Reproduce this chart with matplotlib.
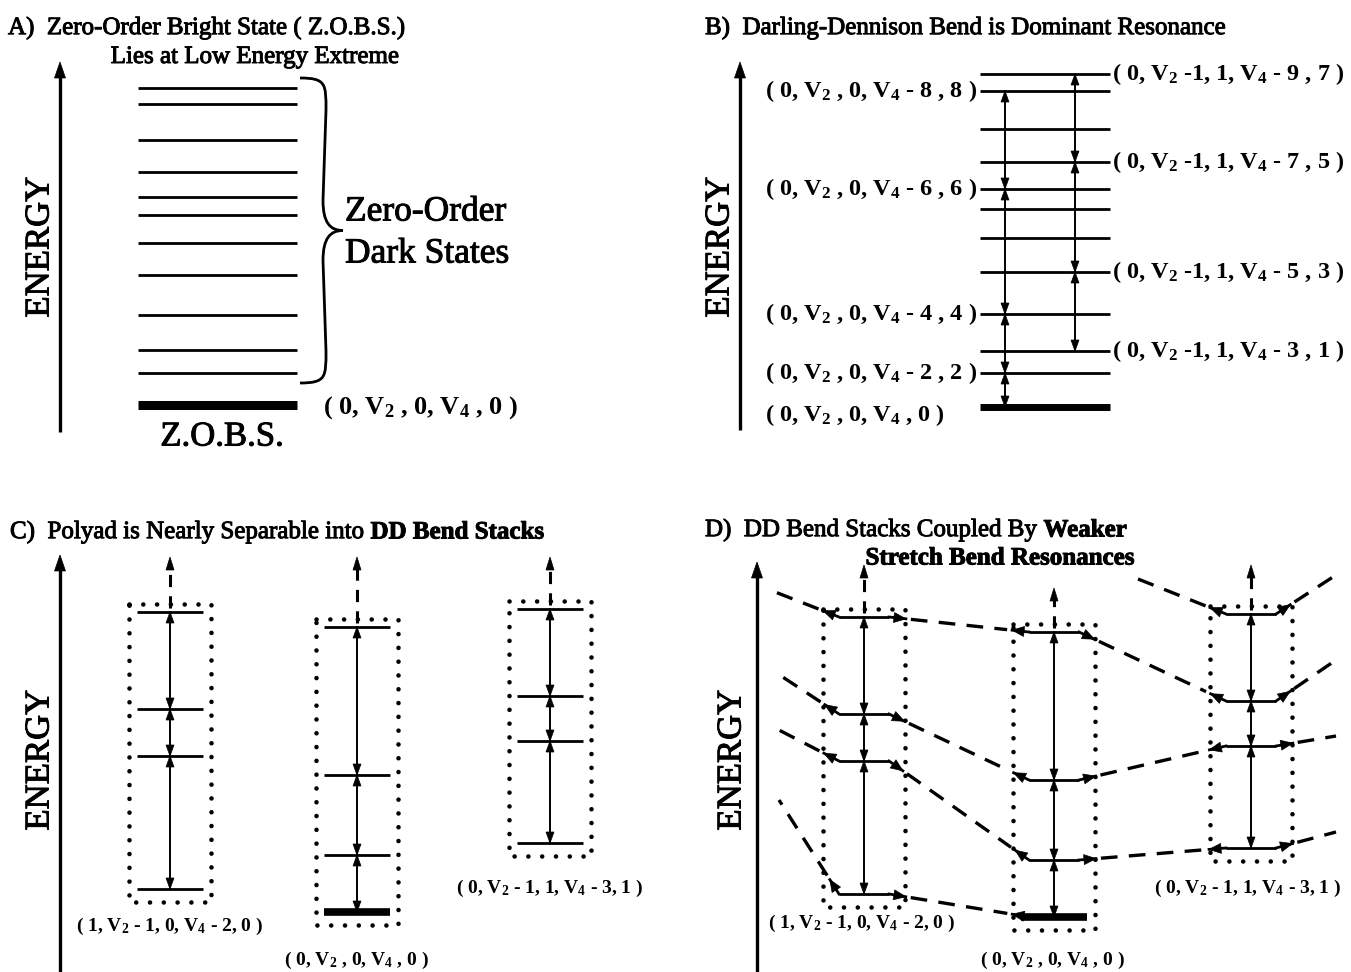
import numpy as np
import matplotlib
matplotlib.use("Agg")
import matplotlib.pyplot as plt
import matplotlib.patheffects as pe
from matplotlib.path import Path
from matplotlib.patches import PathPatch, Polygon

plt.rcParams['font.family'] = ['Liberation Serif', 'DejaVu Serif']
plt.rcParams['mathtext.fontset'] = 'custom'
plt.rcParams['mathtext.rm'] = 'Liberation Serif:bold'
plt.rcParams['mathtext.bf'] = 'Liberation Serif:bold'
plt.rcParams['mathtext.default'] = 'rm'

# ---------------- data (energies in arbitrary units above the bright state) -------------
# A) zero-order dark states and the bright state
dark_E_A = [317, 301, 265, 233, 208, 190, 162, 130, 90, 55, 32]
bright_E_A = 0

# B) Darling-Dennison bend stacks inside the polyad
dd_bright_E = [0, 34, 93, 218, 316]
dd_bright_labels = ["( 0, V$_2$ , 0, V$_4$ , 0 )",
                    "( 0, V$_2$ , 0, V$_4$ - 2 , 2 )",
                    "( 0, V$_2$ , 0, V$_4$ - 4 , 4 )",
                    "( 0, V$_2$ , 0, V$_4$ - 6 , 6 )",
                    "( 0, V$_2$ , 0, V$_4$ - 8 , 8 )"]
dd_other_E = [56, 135, 245, 333]
dd_other_labels = ["( 0, V$_2$ -1, 1, V$_4$ - 3 , 1 )",
                   "( 0, V$_2$ -1, 1, V$_4$ - 5 , 3 )",
                   "( 0, V$_2$ -1, 1, V$_4$ - 7 , 5 )",
                   "( 0, V$_2$ -1, 1, V$_4$ - 9 , 7 )"]
remaining_E_B = [169, 198, 278]

# C/D) three bend stacks (lowest level first)
stack_E = [[23, 156, 203, 300],
           [0, 57, 137, 285],
           [69, 171, 216, 303]]
stack_labels = ["( 1, V$_2$ - 1, 0, V$_4$ - 2, 0 )",
                "( 0, V$_2$ , 0, V$_4$ , 0 )",
                "( 0, V$_2$ - 1, 1, V$_4$ - 3, 1 )"]
bright_stack = 1
# stretch-bend couplings between stacks: (stack, level) <-> (stack, level)
couplings = [((0, 3), (1, 3)), ((1, 3), (2, 2)),
             ((0, 2), (1, 2)), ((0, 1), (1, 1)), ((0, 0), (1, 0)),
             ((1, 2), (2, 1)), ((1, 1), (2, 0))]

# ---------------- figure in pixel coordinates ----------------
W, H = 1351, 972
fig = plt.figure(figsize=(W / 100, H / 100), dpi=100)
ax = fig.add_axes([0, 0, 1, 1])
ax.set_xlim(0, W)
ax.set_ylim(H, 0)
ax.axis('off')
renderer = fig.canvas.get_renderer()

K = 'black'
HEAVY = [pe.withStroke(linewidth=0.7, foreground=K)]
LVL = 2.0


def txt(x, y, s, heavy=True, **kw):
    t = ax.text(x, y, s, **kw)
    if heavy:
        t.set_path_effects(HEAVY)
    return t


def hline(x0, x1, y, lw=LVL):
    ax.plot([x0, x1], [y, y], color=K, lw=lw, solid_capstyle='butt')


def head(tip, d, L=11, wd=8):
    d = np.asarray(d, float)
    d = d / np.hypot(*d)
    n = np.array([-d[1], d[0]])
    tip = np.asarray(tip, float)
    base = tip - L * d
    ax.add_patch(Polygon([tip, base + n * wd / 2, base - n * wd / 2],
                         closed=True, facecolor=K, edgecolor=K, lw=0.5))


def double_arrow(x, ya, yb, lw=1.4, L=11, wd=8):
    ax.plot([x, x], [ya, yb], color=K, lw=lw)
    head((x, ya), (0, ya - yb), L, wd)
    head((x, yb), (0, yb - ya), L, wd)


def stack_arrows(x, ys, **kw):
    ys = sorted(ys)
    for a, b in zip(ys[:-1], ys[1:]):
        double_arrow(x, a, b, **kw)


def energy_axis(x, y_bottom, y_tip, tx, ty):
    ax.plot([x, x], [y_bottom, y_tip + 12], color=K, lw=2.4, solid_capstyle='butt')
    head((x, y_tip), (0, -1), L=16, wd=11)
    txt(tx, ty, "ENERGY", rotation=90, ha='center', va='center', fontsize=25)


def dotted(xs, ys):
    ax.plot(xs, ys, color=K, lw=3.3, linestyle=(0, (0.01, 3.0)),
            dash_capstyle='round')


def dotted_box(x0, x1, y0, y1):
    dotted([x0, x1, x1, x0, x0], [y0, y0, y1, y1, y0])


def dashed(p, q, lw=2.4, pattern=(5, 3.4)):
    ax.plot([p[0], q[0]], [p[1], q[1]], color=K, lw=lw,
            linestyle=(0, pattern), dash_capstyle='butt')


def rich_text(x, y, parts, fontsize=18):
    """Draw consecutive text pieces with differing weights on one line."""
    for s, weight in parts:
        t = txt(x, y, s, fontsize=fontsize, fontweight=weight,
                ha='left', va='center')
        bb = t.get_window_extent(renderer=renderer)
        x += bb.width


# ---------------- A) Zero-order bright state ----------------
txt(8, 28, "A)  Zero-Order Bright State ( Z.O.B.S.)", fontsize=18, va='center')
txt(255, 57, "Lies at Low Energy Extreme", fontsize=18, ha='center', va='center')
energy_axis(60, 432, 62, 40, 247)
baseA = 405
for e in dark_E_A:
    hline(138, 297, baseA - e)
hline(138, 297, baseA - bright_E_A, lw=6.5)
# curly brace spanning the dark states
yt, yb = 78, 383
ym = (yt + yb) / 2
xe, xm, xt = 300, 326, 343
verts = [(xe, yt), (xm, yt), (xm, yt + 6), (xm, yt + 32),
         (xm - 3, ym - 30),
         (xm - 3, ym - 8), (xm + 4, ym), (xt, ym),
         (xm + 4, ym), (xm - 3, ym + 8), (xm - 3, ym + 30),
         (xm, yb - 32),
         (xm, yb - 6), (xm, yb), (xe, yb)]
codes = [Path.MOVETO, Path.CURVE4, Path.CURVE4, Path.CURVE4,
         Path.LINETO,
         Path.CURVE4, Path.CURVE4, Path.CURVE4,
         Path.CURVE4, Path.CURVE4, Path.CURVE4,
         Path.LINETO,
         Path.CURVE4, Path.CURVE4, Path.CURVE4]
ax.add_patch(PathPatch(Path(verts, codes), facecolor='none', edgecolor=K, lw=2.0))
txt(345, 212, "Zero-Order", fontsize=25.5, va='center')
txt(345, 254, "Dark States", fontsize=25.5, va='center')
txt(323, 408, "( 0, V$_2$ , 0, V$_4$ , 0 )", heavy=False, fontsize=19,
    fontweight='bold', va='center')
txt(222, 437, "Z.O.B.S.", fontsize=25, ha='center', va='center')

# ---------------- B) Darling-Dennison resonance ----------------
txt(705, 28, "B)  Darling-Dennison Bend is Dominant Resonance", fontsize=18, va='center')
energy_axis(740, 430, 62, 720, 247)
baseB = 407
bx0, bx1 = 980, 1110
for e in remaining_E_B + dd_other_E + dd_bright_E[1:]:
    hline(bx0, bx1, baseB - e)
hline(bx0, bx1, baseB - dd_bright_E[0], lw=5)
stack_arrows(1005, [baseB - e for e in dd_bright_E])
stack_arrows(1075, [baseB - e for e in dd_other_E])
for e, lab in zip(dd_bright_E[1:], dd_bright_labels[1:]):
    txt(977, baseB - e + 6, lab, heavy=False, fontsize=17.5, fontweight='bold',
        ha='right', va='baseline')
txt(765, baseB + 8, dd_bright_labels[0], heavy=False, fontsize=17.5,
    fontweight='bold', ha='left', va='center')
for e, lab in zip(dd_other_E, dd_other_labels):
    txt(1112, baseB - e + 6, lab, heavy=False, fontsize=17.5, fontweight='bold',
        ha='left', va='baseline')


# ---------------- C) and D) bend stacks ----------------
def draw_stacks(cx_list, base, tips, label_pos, hw):
    ends = {}
    for i, (cx, Es) in enumerate(zip(cx_list, stack_E)):
        ys = [base - e for e in Es]
        top, bot = min(ys), max(ys)
        dotted_box(cx - 41, cx + 41, top - 8, bot + 13)
        for j, y in enumerate(ys):
            if i == bright_stack and j == 0:
                hline(cx - 33, cx + 33, y, lw=5.5)
            else:
                hline(cx - hw, cx + hw, y)
            ends[(i, j)] = ((cx - hw, y), (cx + hw, y))
        stack_arrows(cx, ys)
        # continuation of the stack above the box
        dashed((cx, top - 4), (cx, tips[i] + 10), lw=2.2, pattern=(4, 3))
        head((cx, tips[i]), (0, -1), L=13, wd=8)
        txt(label_pos[i][0], label_pos[i][1], stack_labels[i], heavy=False,
            fontsize=14, fontweight='bold', ha='center', va='center')
    return ends


def port(p, u, dist=17):
    """Short kink leaving a level end, tipped by an arrowhead pointing along u."""
    pa = p + dist * u
    ax.plot([p[0], pa[0]], [p[1], pa[1]], color=K, lw=LVL)
    head(pa, u, L=12, wd=10)
    return pa


def link(p, q):
    p, q = np.asarray(p, float), np.asarray(q, float)
    u = (q - p) / np.hypot(*(q - p))
    pa = port(p, u)
    pb = port(q, -u)
    dashed(pa + 5 * u, pb - 5 * u)


def stub(level_end, outer):
    p, o = np.asarray(level_end, float), np.asarray(outer, float)
    u = (o - p) / np.hypot(*(o - p))
    pa = port(p, u)
    dashed(pa + 5 * u, o)


# C)
rich_text(10, 532, [("C)  Polyad is Nearly Separable into ", 'normal'),
                    ("DD Bend Stacks", 'bold')])
energy_axis(60, 972, 555, 40, 760)
draw_stacks([170, 357, 550], 912, [557, 557, 557],
            [(170, 926), (357, 960), (550, 888)], hw=33)

# D)
rich_text(705, 530, [("D)  DD Bend Stacks Coupled By ", 'normal'),
                     ("Weaker", 'bold')])
txt(1000, 558, "Stretch Bend Resonances", fontsize=18, fontweight='bold',
    ha='center', va='center')
energy_axis(757, 972, 562, 732, 760)
endsD = draw_stacks([864, 1054, 1251], 917, [565, 588, 565],
                    [(862, 923), (1053, 960), (1248, 888)], hw=25)
for a, b in couplings:
    link(endsD[a][1], endsD[b][0])
# couplings to states outside the drawn stacks
for outer, lvl in [((770, 590), 3), ((775, 672), 2), ((775, 728), 1), ((779, 800), 0)]:
    stub(endsD[(0, lvl)][0], outer)
stub(endsD[(2, 3)][0], (1133, 577))
for outer, lvl in [((1336, 575), 3), ((1336, 660), 2), ((1336, 736), 1), ((1336, 832), 0)]:
    stub(endsD[(2, lvl)][1], outer)

fig.savefig("out.png", dpi=100, facecolor='white')
